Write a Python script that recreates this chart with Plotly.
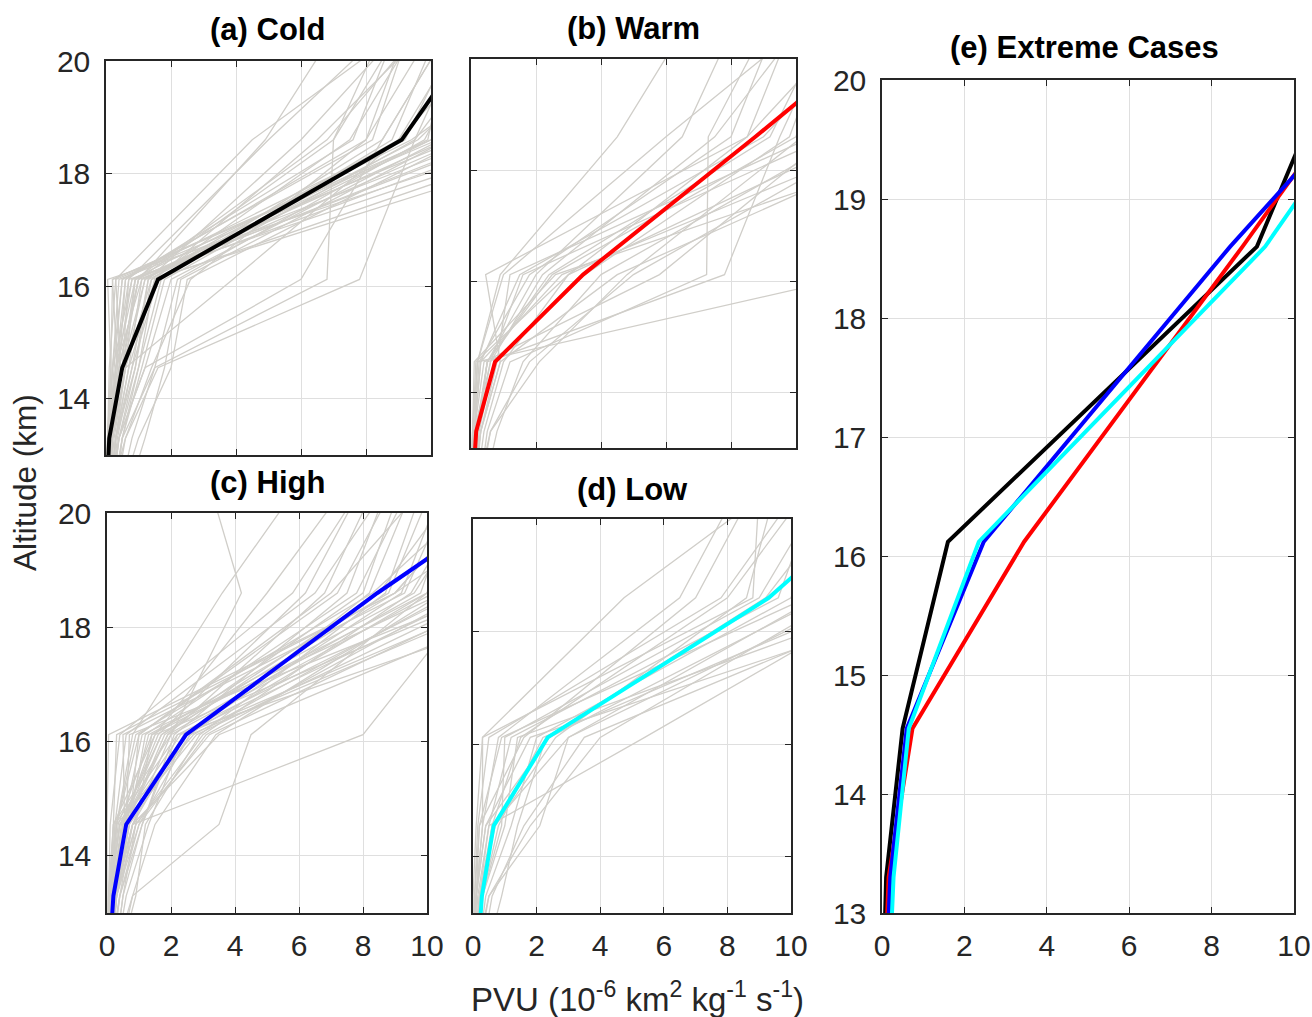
import plotly.graph_objects as go

# Altitude levels (km) at which each PV profile is sampled
ALT_KM = [12.0, 13.3, 14.55, 16.12, 18.6, 20.5]

# Composite-mean PV profiles (PVU) at ALT_KM
MEAN_COLD = [0.0, 0.10, 0.50, 1.60, 9.10, 11.40]
MEAN_WARM = [0.02, 0.16, 0.74, 3.45, 8.75, 12.70]
MEAN_HIGH = [0.05, 0.20, 0.60, 2.47, 8.45, 13.40]
MEAN_LOW = [0.12, 0.28, 0.65, 2.35, 9.30, 13.10]

# Individual case profiles (PVU) at ALT_KM
CASES_COLD = [
    [0.0, 0.1, 0.3, 0.9, 10.5, 13.0],
    [0.05, 0.2, 0.5, 1.2, 9.0, 12.0],
    [0.0, 0.05, 0.2, 0.4, 11.5, 15.0],
    [0.1, 0.3, 0.8, 1.6, 8.5, 10.5],
    [0.0, 0.15, 0.4, 1.0, 12.5, 16.0],
    [0.05, 0.25, 0.6, 1.4, 7.5, 9.5],
    [0.0, 0.1, 0.35, 0.2, 10.0, 12.5],
    [0.2, 0.5, 1.1, 1.8, 9.5, 11.0],
    [0.0, 0.05, 0.15, 0.05, 13.0, 17.0],
    [0.1, 0.4, 0.9, 1.3, 6.0, 9.0],
    [0.0, 0.2, 0.5, 0.7, 5.0, 8.5],
    [0.3, 0.8, 1.5, 2.2, 9.8, 11.5],
    [0.0, 0.1, 0.3, 1.1, 11.0, 13.5],
    [0.05, 0.3, 0.7, 1.5, 14.0, 18.0],
    [0.0, 0.1, 0.4, 0.6, 8.0, 10.0],
    [0.1, 0.3, 0.6, 3.9, 9.0, 11.0],
    [0.1, 0.5, 1.5, 6.8, 7.0, 9.0],
    [0.2, 0.6, 1.6, 7.8, 9.5, 12.0],
    [0.1, 0.4, 1.2, 6.0, 8.5, 10.5],
    [0.0, 0.05, 0.1, 0.3, 4.5, 9.0],
    [0.05, 0.2, 0.5, 1.0, 4.9, 7.0],
    [0.0, 0.1, 0.25, 0.5, 9.2, 10.8],
    [0.1, 0.35, 0.8, 1.3, 10.0, 12.0],
    [0.0, 0.1, 0.2, 0.8, 12.0, 14.5],
    [0.15, 0.4, 1.0, 1.7, 8.8, 10.2],
    [0.0, 0.2, 0.6, 1.2, 9.6, 13.0],
    [0.05, 0.15, 0.45, 0.3, 10.8, 12.8],
    [0.3, 1.0, 2.0, 2.5, 11.0, 14.0],
    [0.0, 0.1, 0.3, 0.7, 13.5, 16.5],
    [0.1, 0.2, 0.4, 1.0, 7.0, 8.5],
    [0.0, 0.05, 0.2, 0.5, 8.2, 9.3],
    [0.05, 0.3, 0.9, 1.4, 15.0, 19.0],
    [0.0, 0.4, 1.2, 2.0, 10.3, 11.5],
    [0.0, 0.1, 0.35, 0.8, 9.4, 14.0],
    [0.2, 0.5, 1.0, 1.5, 6.5, 9.8],
    [0.0, 0.15, 0.5, 0.9, 11.8, 13.0],
    [0.1, 0.3, 0.7, 1.1, 9.9, 10.6],
    [0.0, 0.05, 0.15, 0.2, 10.2, 15.0],
    [0.5, 1.2, 1.8, 2.3, 10.5, 12.5],
    [0.0, 0.6, 1.4, 2.6, 8.0, 9.2],
    [0.0, 0.1, 0.3, 0.6, 7.6, 8.9],
    [0.05, 0.2, 0.6, 0.9, 6.8, 9.6],
]

CASES_WARM = [
    [0.0, 0.1, 0.3, 1.5, 9.0, 12.0],
    [0.05, 0.2, 0.6, 2.2, 7.5, 10.0],
    [0.0, 0.05, 0.2, 12.0, 14.0, 16.0],
    [0.1, 0.4, 1.0, 3.0, 12.0, 15.0],
    [0.0, 0.2, 0.5, 7.8, 9.5, 11.0],
    [0.0, 0.1, 0.4, 5.8, 11.0, 13.0],
    [0.2, 0.5, 1.2, 7.25, 7.3, 9.0],
    [0.0, 0.15, 0.5, 2.0, 6.5, 8.0],
    [0.0, 0.05, 0.2, 0.9, 4.5, 6.5],
    [0.1, 0.3, 0.8, 1.2, 10.5, 13.0],
    [0.0, 0.1, 0.3, 2.8, 13.0, 16.0],
    [0.05, 0.25, 0.7, 3.5, 9.8, 11.0],
    [0.3, 0.8, 1.6, 4.0, 11.5, 14.0],
    [0.0, 0.1, 0.25, 1.8, 8.0, 9.3],
    [0.0, 0.3, 0.9, 4.5, 14.0, 17.0],
    [0.1, 0.2, 0.5, 2.5, 10.0, 11.0],
    [0.0, 0.3, 0.9, 0.45, 8.5, 11.5],
    [0.0, 0.05, 0.15, 3.0, 8.5, 9.8],
    [0.2, 0.6, 1.8, 5.0, 12.5, 15.0],
    [0.0, 0.1, 0.6, 1.6, 11.0, 12.0],
    [0.05, 0.2, 0.5, 2.4, 9.2, 10.8],
    [0.0, 0.1, 0.2, 1.0, 6.0, 10.0],
    [0.1, 0.6, 2.1, 4.8, 10.2, 12.2],
    [0.0, 0.05, 0.1, 2.6, 15.0, 18.0],
]

CASES_HIGH = [
    [0.0, 0.1, 0.3, 1.0, 7.0, 10.0],
    [0.05, 0.2, 0.6, 1.8, 8.5, 11.0],
    [0.0, 0.1, 0.4, 2.5, 10.0, 12.5],
    [0.1, 0.3, 0.9, 3.0, 9.5, 11.5],
    [0.0, 0.05, 0.2, 0.3, 9.0, 12.0],
    [0.2, 0.5, 1.1, 2.2, 11.0, 14.0],
    [0.0, 0.2, 0.5, 1.5, 5.0, 7.5],
    [0.0, 0.1, 0.3, 0.8, 3.6, 6.0],
    [0.1, 0.4, 0.8, 2.0, 4.2, 3.2],
    [0.0, 0.15, 0.5, 2.8, 12.0, 14.0],
    [0.05, 0.3, 0.7, 1.2, 7.8, 9.5],
    [0.0, 0.1, 0.25, 0.6, 6.5, 8.8],
    [0.1, 0.4, 1.0, 2.6, 13.0, 16.0],
    [0.0, 0.2, 0.6, 1.9, 9.8, 11.0],
    [0.3, 0.8, 1.5, 3.4, 10.5, 12.0],
    [0.0, 0.1, 0.35, 1.4, 8.8, 10.2],
    [0.1, 0.3, 0.8, 8.0, 11.5, 13.5],
    [0.1, 0.8, 3.5, 4.5, 10.0, 12.0],
    [0.0, 0.05, 0.1, 0.4, 5.8, 8.0],
    [0.05, 0.2, 0.5, 1.7, 8.0, 9.2],
    [0.0, 0.1, 0.4, 2.3, 11.5, 13.0],
    [0.1, 0.25, 0.7, 1.0, 7.2, 9.0],
    [0.0, 0.3, 0.9, 3.2, 12.5, 15.0],
    [0.0, 0.1, 0.2, 2.0, 10.2, 14.0],
    [0.2, 0.6, 1.3, 2.4, 9.2, 10.5],
    [0.0, 0.05, 0.3, 0.9, 8.3, 12.0],
    [0.05, 0.15, 0.45, 1.6, 6.2, 8.0],
    [0.0, 0.2, 0.8, 3.5, 14.0, 17.0],
    [0.1, 0.3, 0.6, 1.3, 9.6, 11.8],
    [0.0, 0.1, 0.3, 2.7, 10.8, 12.2],
    [0.0, 0.4, 1.1, 2.1, 7.5, 8.8],
    [0.1, 0.2, 0.5, 1.1, 10.5, 13.5],
    [0.0, 0.05, 0.2, 1.5, 12.0, 15.5],
    [0.3, 0.9, 1.2, 2.9, 8.7, 9.9],
    [0.0, 0.15, 0.55, 0.5, 9.3, 10.8],
    [0.0, 0.1, 0.25, 2.2, 15.0, 18.0],
    [0.05, 0.3, 1.0, 3.1, 11.2, 12.8],
    [0.0, 0.0, 0.0, 0.05, 9.0, 12.0],
    [0.2, 0.5, 0.9, 1.4, 10.0, 11.2],
    [0.0, 0.1, 0.4, 1.7, 9.0, 14.0],
    [0.1, 0.3, 0.7, 2.6, 8.2, 9.6],
    [0.0, 0.2, 0.6, 0.7, 11.8, 13.2],
    [0.0, 0.1, 0.5, 1.9, 6.8, 8.4],
    [0.05, 0.25, 0.8, 2.4, 12.8, 14.5],
]

CASES_LOW = [
    [0.0, 0.1, 0.3, 0.3, 4.75, 9.3],
    [0.05, 0.2, 0.6, 1.5, 8.0, 10.5],
    [0.0, 0.1, 0.4, 2.4, 11.0, 13.0],
    [0.1, 0.3, 0.9, 1.0, 9.0, 11.0],
    [0.0, 0.5, 2.1, 3.0, 12.0, 14.0],
    [0.0, 0.2, 0.5, 5.4, 13.0, 15.0],
    [0.1, 0.4, 1.2, 2.0, 10.0, 11.2],
    [0.0, 0.05, 0.2, 1.6, 7.0, 8.8],
    [0.0, 0.1, 0.3, 0.8, 6.5, 8.3],
    [0.2, 0.6, 1.6, 3.5, 14.0, 16.0],
    [0.0, 0.15, 0.5, 1.2, 9.6, 10.8],
    [0.05, 0.3, 0.8, 2.2, 12.5, 15.0],
    [0.0, 0.1, 0.2, 0.9, 10.5, 12.5],
    [0.1, 0.5, 1.8, 4.0, 11.5, 13.0],
    [0.0, 0.2, 0.7, 2.6, 8.6, 9.5],
    [0.0, 0.1, 0.4, 1.8, 15.0, 17.0],
    [0.3, 0.9, 1.4, 2.3, 9.2, 11.8],
    [0.0, 0.05, 0.15, 0.5, 7.8, 10.2],
    [0.1, 0.25, 0.6, 3.0, 10.8, 11.6],
    [0.0, 0.3, 1.0, 1.4, 13.5, 14.5],
    [0.0, 0.0, 0.1, 0.3, 8.8, 9.0],
]

PANEL_TITLES = ["(a) Cold", "(b) Warm", "(c) High", "(d) Low", "(e) Extreme Cases"]
X_TICKS = [0, 2, 4, 6, 8, 10]
Y_TICKS_SMALL = [14, 16, 18, 20]
Y_TICKS_BIG = [13, 14, 15, 16, 17, 18, 19, 20]

W, H = 1312, 1017
FONT = "Liberation Sans, Arial, sans-serif"
TICK_COLOR = "#262626"
GRID_COLOR = "rgb(223,223,223)"
CASE_COLOR = "rgb(208,206,201)"

# Panel frames in pixels: (left, right, top, bottom)
FRAMES = [
    (106, 431, 61, 455),
    (471, 796, 59, 448),
    (107, 427, 513, 913),
    (473, 791, 519, 913),
    (882, 1294, 80, 913),
]

fig = go.Figure()

panels = [
    (CASES_COLD, MEAN_COLD, "black"),
    (CASES_WARM, MEAN_WARM, "#ff0000"),
    (CASES_HIGH, MEAN_HIGH, "#0000ff"),
    (CASES_LOW, MEAN_LOW, "#00ffff"),
]

for i, (cases, mean, color) in enumerate(panels):
    ax = "" if i == 0 else str(i + 1)
    for prof in cases:
        fig.add_trace(go.Scatter(
            x=prof, y=ALT_KM, mode="lines",
            line=dict(color=CASE_COLOR, width=1.3),
            xaxis="x" + ax, yaxis="y" + ax, hoverinfo="skip", showlegend=False,
        ))
    fig.add_trace(go.Scatter(
        x=mean, y=ALT_KM, mode="lines",
        line=dict(color=color, width=4),
        xaxis="x" + ax, yaxis="y" + ax, hoverinfo="skip", showlegend=False,
    ))

# Panel (e): the four composite means together
for mean, color in [(MEAN_COLD, "black"), (MEAN_WARM, "#ff0000"),
                    (MEAN_HIGH, "#0000ff"), (MEAN_LOW, "#00ffff")]:
    fig.add_trace(go.Scatter(
        x=mean, y=ALT_KM, mode="lines",
        line=dict(color=color, width=4),
        xaxis="x5", yaxis="y5", hoverinfo="skip", showlegend=False,
    ))

layout = dict(
    width=W, height=H,
    margin=dict(l=0, r=0, t=0, b=0, autoexpand=False),
    paper_bgcolor="white", plot_bgcolor="white",
    font=dict(family=FONT, color=TICK_COLOR, size=30),
    showlegend=False,
)

for i, (l, r, t, b) in enumerate(FRAMES):
    key = "" if i == 0 else str(i + 1)
    show_xlab = i in (2, 3, 4)
    show_ylab = i in (0, 2, 4)
    yticks = Y_TICKS_BIG if i == 4 else Y_TICKS_SMALL
    common = dict(
        showline=True, linecolor=TICK_COLOR, linewidth=1.5, mirror="ticks",
        ticks="inside", ticklen=6, tickwidth=1.2, tickcolor=TICK_COLOR,
        showgrid=True, gridcolor=GRID_COLOR, gridwidth=1,
        zeroline=False, fixedrange=True, automargin=False,
        tickfont=dict(family=FONT, size=30, color=TICK_COLOR),
    )
    layout["xaxis" + key] = dict(
        common, domain=[l / W, r / W], range=[0, 10], tickvals=X_TICKS,
        showticklabels=show_xlab, anchor="y" + key, ticklabelstandoff=5,
    )
    layout["yaxis" + key] = dict(
        common, domain=[1 - b / H, 1 - t / H], range=[13, 20], tickvals=yticks,
        showticklabels=show_ylab, anchor="x" + key, ticklabelstandoff=8,
    )

fig.update_layout(**layout)

# Panel titles
title_pos = [(267, 30), (633, 29), (267, 483), (632, 489), (1084, 47)]
for text, (cx, cy) in zip(PANEL_TITLES, title_pos):
    fig.add_annotation(
        text="<b>" + text + "</b>", x=cx / W, y=1 - cy / H,
        xref="paper", yref="paper", showarrow=False,
        xanchor="center", yanchor="middle",
        font=dict(family=FONT, size=31, color="black"),
    )

# Shared axis labels
fig.add_annotation(
    text="Altitude (km)", x=25 / W, y=1 - 483 / H, xref="paper", yref="paper",
    showarrow=False, textangle=-90, xanchor="center", yanchor="middle",
    font=dict(family=FONT, size=31.5, color=TICK_COLOR),
)
fig.add_annotation(
    text="PVU (10<sup>-6</sup> km<sup>2</sup> kg<sup>-1</sup> s<sup>-1</sup>)",
    x=637 / W, y=1 - 997 / H, xref="paper", yref="paper",
    showarrow=False, xanchor="center", yanchor="middle",
    font=dict(family=FONT, size=33, color=TICK_COLOR),
)

fig.write_html("out.html", config={"displayModeBar": False})
